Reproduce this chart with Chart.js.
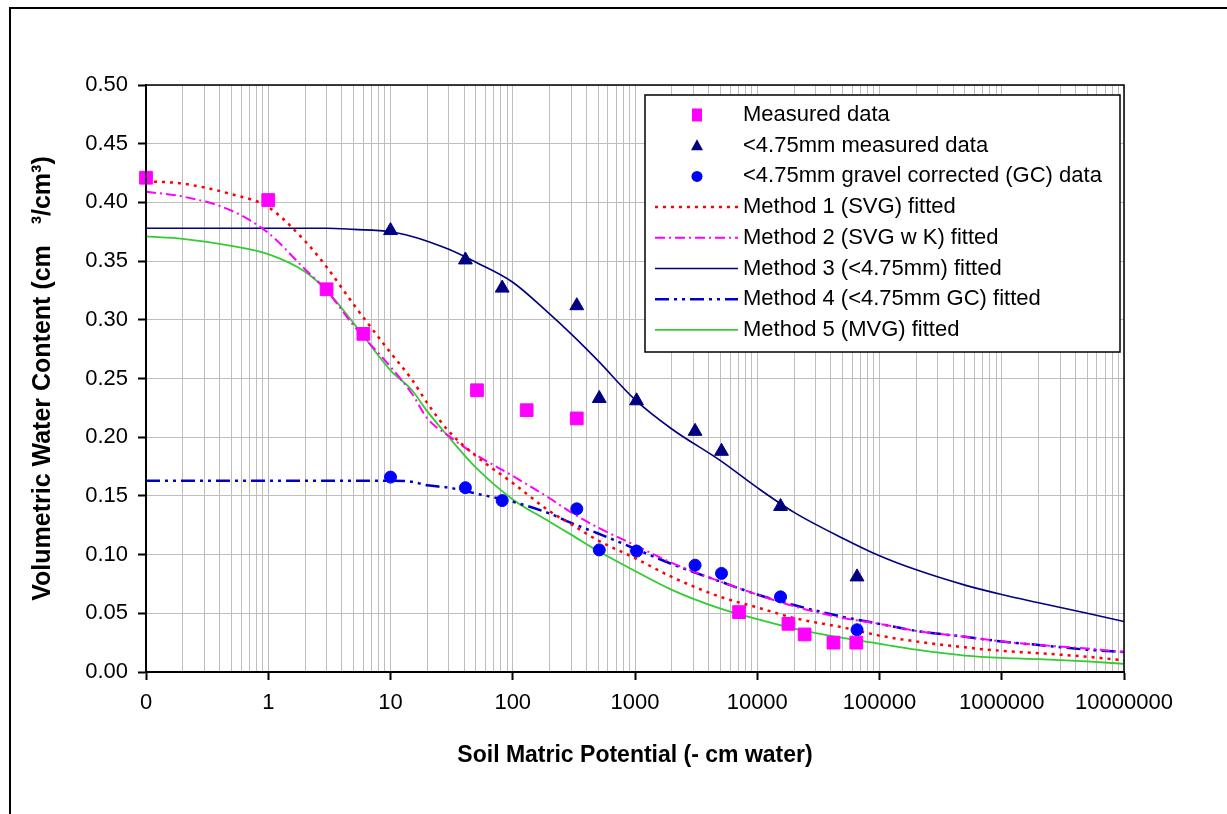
<!DOCTYPE html>
<html>
<head>
<meta charset="utf-8">
<script src="https://cdn.jsdelivr.net/npm/chart.js@4.4.0/dist/chart.umd.min.js"></script>
<style>
  body { margin: 0; background: #fff; }
  #wrap { width: 1227px; height: 814px; }
</style>
</head>
<body>
<div id="wrap"><canvas id="retentionChart" width="1227" height="814"></canvas></div>
<script>
// --- measured points (x = soil matric potential, - cm water) ---
const measuredX = [0.1, 1, 3, 6, 51, 130, 334, 7100, 18000, 24400, 42000, 64600];
const measuredY = [0.421, 0.402, 0.326, 0.288, 0.240, 0.223, 0.216, 0.051, 0.041, 0.032, 0.025, 0.025];

// <4.75mm fraction, raw and gravel corrected
const fineX = [10, 41, 82, 334, 510, 1030, 3100, 5100, 15500, 65500];
const fineY = [0.376, 0.351, 0.327, 0.312, 0.233, 0.231, 0.205, 0.188, 0.141, 0.081];
const fineGcY = [0.166, 0.157, 0.146, 0.139, 0.104, 0.103, 0.091, 0.084, 0.064, 0.036];

// --- fitted curves ---
const curveX = [0.1, 0.2, 0.5, 1, 2, 3, 5, 10, 15, 20, 30, 50, 100, 200, 300, 500,
  1000, 2000, 5000, 10000, 20000, 50000, 100000, 200000, 500000, 1000000, 2000000, 5000000, 10000000];
const method1Y = [0.418, 0.416, 0.407, 0.396, 0.367, 0.345, 0.313, 0.272, 0.249, 0.229, 0.205, 0.184, 0.161, 0.137, 0.126, 0.112,
  0.097, 0.081, 0.064, 0.055, 0.046, 0.038, 0.031, 0.026, 0.021, 0.018, 0.016, 0.013, 0.010];
const method2Y = [0.409, 0.405, 0.393, 0.374, 0.343, 0.325, 0.295, 0.260, 0.237, 0.216, 0.201, 0.185, 0.167, 0.148, 0.136, 0.123,
  0.108, 0.093, 0.077, 0.066, 0.056, 0.046, 0.041, 0.035, 0.030, 0.026, 0.023, 0.020, 0.017];
const method3Y = [0.378, 0.378, 0.378, 0.378, 0.378, 0.378, 0.377, 0.375, 0.371, 0.367, 0.360, 0.349, 0.332, 0.305, 0.288, 0.265,
  0.232, 0.207, 0.180, 0.157, 0.136, 0.114, 0.099, 0.087, 0.074, 0.066, 0.059, 0.050, 0.043];
const method4Y = [0.163, 0.163, 0.163, 0.163, 0.163, 0.163, 0.163, 0.163, 0.162, 0.159, 0.157, 0.152, 0.145, 0.135, 0.127, 0.118,
  0.105, 0.092, 0.077, 0.066, 0.057, 0.047, 0.041, 0.035, 0.030, 0.026, 0.023, 0.019, 0.017];
const method5Y = [0.371, 0.369, 0.363, 0.356, 0.341, 0.325, 0.297, 0.257, 0.240, 0.222, 0.200, 0.174, 0.147, 0.128, 0.117, 0.103,
  0.086, 0.070, 0.054, 0.045, 0.037, 0.029, 0.024, 0.019, 0.014, 0.012, 0.011, 0.009, 0.007];

const seriesNames = [
  'Measured data',
  '<4.75mm measured data',
  '<4.75mm gravel corrected (GC) data',
  'Method 1 (SVG) fitted',
  'Method 2 (SVG w K) fitted',
  'Method 3 (<4.75mm) fitted',
  'Method 4 (<4.75mm GC) fitted',
  'Method 5 (MVG) fitted'
];

// axis ticks
const xMajorTicks = [0.1, 1, 10, 100, 1000, 10000, 100000, 1000000, 10000000];
const xTickLabels = ['0', '1', '10', '100', '1000', '10000', '100000', '1000000', '10000000'];
const yMin = 0, yMax = 0.5, yStep = 0.05;

const FONT = '"Liberation Sans", Arial, sans-serif';

function pts(xs, ys) {
  return xs.map((x, i) => ({ x: x, y: ys[i] }));
}

function isMajorX(v) {
  return xMajorTicks.findIndex(m => Math.abs(m - v) < m * 1e-9);
}

// grid lines at 1..9 x 10^n
function xGridValues() {
  const out = [];
  for (let e = -1; e < 7; e++) {
    for (let m = 1; m < 10; m++) out.push(Number((m * Math.pow(10, e)).toPrecision(12)));
  }
  out.push(10000000);
  return out;
}

function markerSet(label, xs, ys, style, color, r) {
  return {
    label: label, data: pts(xs, ys), showLine: false,
    pointStyle: style, pointRadius: r, pointHoverRadius: r,
    pointBackgroundColor: color, pointBorderColor: color, pointBorderWidth: 1,
    clip: 12
  };
}

function curveSet(label, ys, color, width, dash) {
  return {
    label: label, data: pts(curveX, ys), showLine: true,
    borderColor: color, borderWidth: width, borderDash: dash,
    pointRadius: 0, pointHoverRadius: 0, fill: false,
    cubicInterpolationMode: 'monotone'
  };
}

// legend inside the plot + frames
const boxPlugin = {
  id: 'boxes',
  afterDraw(chart) {
    const { ctx, chartArea: a } = chart;
    ctx.save();
    ctx.strokeStyle = '#000';
    ctx.lineWidth = 1.5;
    ctx.strokeRect(a.left, a.top, a.right - a.left, a.bottom - a.top);

    // outer frame, only top and left are in the picture
    ctx.lineWidth = 2;
    ctx.beginPath();
    ctx.moveTo(10, 814);
    ctx.lineTo(10, 8);
    ctx.lineTo(1227, 8);
    ctx.stroke();

    // legend
    const lx = 645, ly = 95, lw = 475, lh = 257;
    ctx.fillStyle = '#fff';
    ctx.fillRect(lx, ly, lw, lh);
    ctx.lineWidth = 1.5;
    ctx.strokeRect(lx, ly, lw, lh);

    ctx.font = '22px ' + FONT;
    ctx.textBaseline = 'middle';
    ctx.textAlign = 'left';
    chart.data.datasets.forEach((ds, i) => {
      const y = 115 + i * 30.7;
      if (ds.showLine) {
        ctx.strokeStyle = ds.borderColor;
        ctx.lineWidth = ds.borderWidth;
        ctx.setLineDash(ds.borderDash || []);
        ctx.beginPath();
        ctx.moveTo(655, y);
        ctx.lineTo(738, y);
        ctx.stroke();
        ctx.setLineDash([]);
      } else {
        ctx.fillStyle = ds.pointBackgroundColor;
        const cx = 697;
        ctx.beginPath();
        if (ds.pointStyle === 'rect') {
          ctx.rect(cx - 5, y - 6.5, 10, 13);
        } else if (ds.pointStyle === 'triangle') {
          ctx.moveTo(cx, y - 6.5);
          ctx.lineTo(cx + 6, y + 4.5);
          ctx.lineTo(cx - 6, y + 4.5);
          ctx.closePath();
        } else {
          ctx.arc(cx, y, 5.5, 0, Math.PI * 2);
        }
        ctx.fill();
      }
      ctx.fillStyle = '#000';
      ctx.fillText(ds.label, 743, y);
    });
    ctx.restore();
  }
};

const ctx = document.getElementById('retentionChart').getContext('2d');

new Chart(ctx, {
  type: 'scatter',
  data: {
    datasets: [
      markerSet(seriesNames[0], measuredX, measuredY, 'rect', '#ff00ff', 9),
      markerSet(seriesNames[1], fineX, fineY, 'triangle', '#000080', 8),
      markerSet(seriesNames[2], fineX, fineGcY, 'circle', '#0000ff', 6),
      curveSet(seriesNames[3], method1Y, '#ff0000', 2.5, [3, 5]),
      curveSet(seriesNames[4], method2Y, '#ff00ff', 2, [10, 4, 2, 4]),
      curveSet(seriesNames[5], method3Y, '#000080', 1.6, []),
      curveSet(seriesNames[6], method4Y, '#0000cc', 2.5, [14, 5, 3, 5, 3, 5]),
      curveSet(seriesNames[7], method5Y, '#33cc33', 1.8, [])
    ]
  },
  options: {
    responsive: false,
    animation: false,
    events: [],
    layout: { padding: { left: 0, top: 85, right: 103, bottom: 0 } },
    plugins: {
      legend: { display: false },
      tooltip: { enabled: false }
    },
    scales: {
      x: {
        type: 'logarithmic',
        min: 0.1,
        max: 10000000,
        afterBuildTicks: (scale) => {
          scale.ticks = xGridValues().map(v => ({ value: v }));
        },
        afterFit: (scale) => { scale.height = 142; },
        ticks: {
          autoSkip: false,
          maxRotation: 0,
          padding: 10,
          color: '#000',
          font: { family: FONT, size: 22 },
          major: { enabled: false },
          callback: (v) => {
            const k = isMajorX(v);
            return k >= 0 ? xTickLabels[k] : '';
          }
        },
        grid: {
          color: '#bdbdbd',
          lineWidth: 1,
          tickLength: 8,
          tickWidth: 2,
          tickColor: (c) => (c.tick && isMajorX(c.tick.value) >= 0) ? '#000' : 'rgba(0,0,0,0)'
        },
        border: { color: '#000', width: 2 },
        title: {
          display: true,
          text: 'Soil Matric Potential (- cm water)',
          color: '#000',
          font: { family: FONT, size: 23, weight: 'bold' },
          padding: { top: 0, bottom: 45 }
        }
      },
      y: {
        min: yMin,
        max: yMax,
        afterFit: (scale) => { scale.width = 146; },
        ticks: {
          stepSize: yStep,
          padding: 10,
          color: '#000',
          font: { family: FONT, size: 22 },
          callback: (v) => v.toFixed(2)
        },
        grid: {
          color: '#bdbdbd',
          lineWidth: 1,
          tickLength: 8,
          tickWidth: 2,
          tickColor: '#000'
        },
        border: { color: '#000', width: 2 },
        title: {
          display: true,
          text: 'Volumetric Water Content (cm   \u00b3/cm\u00b3)',
          color: '#000',
          font: { family: FONT, size: 25, weight: 'bold' },
          padding: { top: 28, bottom: 0 }
        }
      }
    }
  },
  plugins: [boxPlugin]
});
</script>
</body>
</html>
